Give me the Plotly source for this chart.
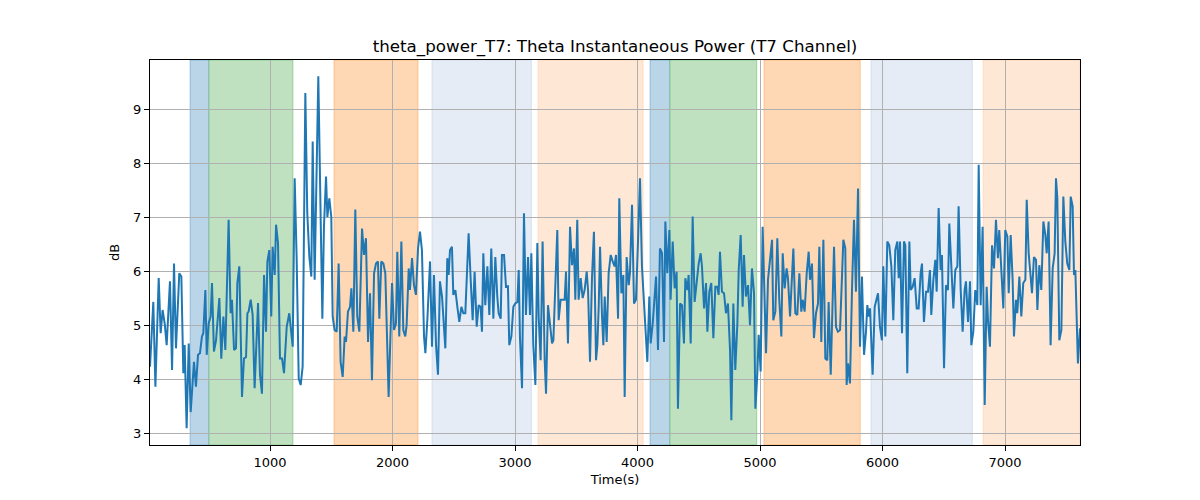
import plotly.graph_objects as go

# ---- data ----
time_s = [
    20, 47, 64, 91, 107, 123, 140, 156, 183, 200, 216, 232, 259, 276, 292, 303, 319, 336, 352, 379,
    395, 412, 428, 444, 455, 472, 483, 499, 515, 526, 542, 559, 586, 602, 619, 635, 662, 678, 689, 706,
    722, 733, 749, 771, 787, 804, 815, 825, 842, 858, 874, 902, 918, 934, 951, 967, 978, 994, 1010, 1021,
    1038, 1049, 1065, 1081, 1098, 1114, 1136, 1157, 1185, 1201, 1217, 1234, 1250, 1266,
    1288, 1304, 1321, 1337, 1348, 1364, 1394, 1427, 1440, 1457, 1468, 1484, 1500, 1511, 1527, 1544, 1560,
    1576, 1593, 1609, 1620, 1636, 1653, 1664, 1680, 1696, 1712, 1729, 1751, 1767, 1783, 1800, 1816, 1832,
    1849, 1865, 1881, 1892, 1908, 1925, 1941, 1952, 1968, 1996, 2012, 2028, 2039, 2055, 2072, 2088, 2104,
    2115, 2132, 2142, 2159, 2175, 2191, 2208, 2224, 2240, 2257, 2268, 2284, 2306, 2322, 2338, 2355, 2371,
    2387, 2404, 2431, 2447, 2458,
    2469, 2485, 2496, 2513, 2529, 2545, 2562, 2578, 2594, 2621, 2638, 2654, 2670, 2687, 2703, 2719, 2730,
    2741, 2757, 2774, 2790, 2806, 2823, 2839, 2855, 2866, 2883, 2893, 2910, 2926, 2942, 2953, 2970, 2986,
    3002, 3019, 3030, 3040, 3057, 3073, 3089, 3106, 3122, 3133, 3149, 3166, 3182, 3193, 3209, 3225, 3242,
    3253, 3269, 3285, 3302, 3313, 3329, 3345, 3356, 3372, 3389, 3405, 3416, 3432, 3449, 3465, 3481, 3492,
    3508, 3519, 3536, 3552, 3568, 3585, 3596, 3612, 3628, 3644, 3661, 3672, 3683,
    3694, 3710, 3721, 3732, 3748, 3764, 3781, 3797, 3813, 3824, 3841, 3851, 3868, 3884, 3895, 3911, 3928,
    3938, 3955, 3971, 3987, 4004, 4020, 4036, 4053, 4064, 4080, 4096, 4107, 4124, 4140, 4151, 4167, 4183,
    4200, 4216, 4227, 4243, 4260, 4270, 4287, 4303, 4319, 4330, 4347, 4363, 4379, 4390, 4407, 4417, 4434,
    4450, 4466, 4483, 4499, 4515, 4526, 4543, 4559, 4570, 4586, 4602, 4619, 4635, 4651, 4662, 4673, 4689,
    4706, 4722, 4738, 4755, 4766, 4782, 4798, 4815, 4826, 4842, 4858, 4869, 4885, 4902, 4918,
    4934, 4951, 4962, 4978, 4989, 5005, 5021, 5049, 5065, 5081, 5098, 5108, 5125, 5141, 5157, 5174, 5185,
    5201, 5217, 5228, 5245, 5272, 5288, 5304, 5321, 5337, 5348, 5364, 5381, 5397, 5408, 5424, 5440, 5457,
    5473, 5484, 5500, 5517, 5533, 5549, 5560, 5577, 5604, 5620, 5636, 5653, 5680, 5696, 5707, 5718, 5734,
    5751, 5767, 5783, 5800, 5816, 5832, 5849, 5865, 5876, 5887, 5898, 5919, 5936, 5963, 5979, 5995, 6006,
    6023, 6039, 6055, 6072, 6088, 6104, 6121, 6132,
    6143, 6159, 6175, 6186, 6202, 6219, 6230, 6246, 6262, 6279, 6295, 6311, 6322, 6338, 6355, 6371, 6387,
    6398, 6415, 6431, 6442, 6458, 6474, 6485, 6502, 6518, 6534, 6545, 6562, 6578, 6594, 6611, 6621, 6638,
    6654, 6670, 6681, 6698, 6714, 6725, 6741, 6757, 6774, 6785, 6801, 6817, 6834, 6850, 6861, 6877, 6894,
    6910, 6926, 6942, 6953, 6970, 6986, 7002, 7019, 7030, 7046, 7062, 7073, 7089, 7100, 7117, 7133, 7149,
    7166, 7177, 7193, 7209, 7220, 7236, 7253, 7264, 7280, 7296, 7313, 7329, 7340, 7356, 7372, 7389, 7405,
    7416, 7427, 7443, 7460, 7476, 7492, 7508, 7525, 7536, 7552, 7563, 7574, 7595, 7612,
]

power_db = [
    4.23, 5.43, 3.86, 5.87, 4.85, 5.28, 5.03, 4.63, 5.81, 4.17, 6.14, 4.57, 5.96, 5.90, 4.11, 4.63, 3.09, 4.66, 3.39, 4.32,
    3.86, 4.45, 4.48, 4.79, 4.85, 5.65, 4.45, 5.03, 5.16, 5.78, 4.51, 4.72, 5.50, 4.38, 5.16, 4.54, 6.95, 5.22, 5.47, 4.54,
    4.57, 5.78, 6.09, 3.67, 4.38, 4.41, 5.22, 5.25, 5.47, 5.19, 3.83, 5.41, 4.08, 3.73, 5.93, 4.88, 6.17, 6.39, 5.16, 6.45,
    5.93, 6.86, 6.52, 4.38, 4.38, 4.11, 4.97, 5.22, 4.60, 7.72, 6.26, 4.01, 3.89, 4.23,
    9.30, 7.07, 6.26, 5.90, 8.40, 5.84, 9.61, 5.12, 6.82, 7.75, 7.00, 7.35, 7.00, 5.16, 4.91, 4.88, 6.14,
    4.32, 4.04, 4.79, 4.69, 5.25, 5.34, 5.68, 4.88, 7.14, 5.16, 4.88, 6.79, 6.30, 6.61, 4.69, 5.59, 3.98,
    5.96, 6.14, 6.18, 5.12, 6.18, 6.14, 5.96, 4.79, 3.67, 5.78, 4.91, 5.03, 6.36, 4.79, 6.55, 4.91, 4.79,
    5.00, 6.05, 5.65, 6.24, 5.74, 5.56, 6.42, 6.73, 6.39, 4.79, 4.48, 5.09, 6.18, 4.60, 5.93, 4.63, 4.08,
    5.81, 5.53, 4.57, 6.24, 5.93,
    6.39, 6.45, 5.56, 5.65, 5.34, 5.06, 5.34, 5.22, 5.22, 6.70, 5.84, 5.09, 5.99, 4.97, 5.37, 5.34, 4.88,
    6.33, 5.37, 6.09, 5.19, 6.42, 5.12, 6.26, 5.53, 5.22, 5.12, 6.30, 6.30, 5.71, 5.72, 4.63, 4.79, 5.34,
    5.40, 5.43, 6.02, 4.79, 3.83, 7.07, 5.19, 6.26, 5.19, 6.33, 4.63, 3.89, 6.52, 5.16, 4.35, 6.55, 4.35,
    3.73, 5.37, 5.03, 4.66, 4.72, 5.90, 6.76, 5.09, 5.47, 5.47, 5.47, 5.99, 4.66, 6.82, 6.11, 6.42, 5.47,
    6.95, 5.47, 5.87, 5.50, 5.65, 5.99, 5.65, 4.32, 5.87, 6.73, 4.35, 4.63, 5.34,
    6.45, 5.16, 4.63, 5.53, 4.69, 5.96, 6.30, 6.18, 6.09, 6.30, 5.12, 7.35, 5.59, 5.93, 3.67, 6.26, 5.74,
    5.96, 7.23, 5.40, 5.47, 6.55, 7.72, 6.09, 5.37, 4.91, 4.32, 5.53, 4.66, 5.03, 5.47, 5.90, 4.54, 6.42,
    6.33, 4.69, 6.92, 5.96, 6.76, 5.47, 6.55, 5.68, 5.99, 3.45, 5.40, 5.37, 4.66, 5.87, 5.65, 5.93, 4.66,
    7.01, 5.43, 5.81, 6.14, 6.33, 6.09, 5.31, 5.78, 4.88, 5.62, 5.78, 4.76, 5.71, 5.71, 5.56, 6.36, 5.62,
    5.59, 5.22, 5.40, 4.54, 3.24, 5.40, 4.17, 5.03, 6.02, 6.67, 5.34, 6.30, 5.53, 5.74, 5.00,
    6.05, 5.59, 3.45, 4.11, 4.82, 4.14, 6.82, 4.48, 5.84, 6.21, 6.58, 5.09, 5.25, 6.61, 5.47, 4.79, 6.33,
    5.68, 6.05, 5.87, 5.16, 6.42, 5.22, 5.19, 5.96, 5.25, 5.47, 5.25, 5.96, 6.36, 5.84, 6.14, 4.76, 5.22,
    5.40, 6.45, 4.69, 6.58, 4.38, 4.35, 5.43, 4.08, 6.45, 4.97, 4.88, 4.91, 6.58, 6.42, 3.89, 4.29, 3.92,
    5.68, 6.95, 5.62, 7.53, 4.60, 5.90, 4.45, 4.88, 5.37, 5.16, 5.31, 4.08, 5.34, 5.59, 4.97, 4.72, 6.09,
    4.79, 6.55, 6.48, 6.09, 5.09, 6.39, 6.55, 5.87,
    6.55, 4.85, 6.55, 6.48, 4.11, 6.55, 5.65, 5.71, 5.87, 5.31, 5.31, 5.96, 6.14, 5.06, 5.62, 5.62, 6.02,
    5.19, 5.84, 6.21, 5.62, 7.17, 6.02, 6.30, 4.20, 5.74, 5.65, 6.88, 5.96, 5.31, 6.02, 6.09, 7.20, 5.65,
    4.88, 5.65, 5.81, 5.06, 5.81, 4.63, 4.88, 5.65, 5.37, 7.97, 5.37, 6.82, 3.52, 5.71, 5.09, 4.60, 6.48,
    6.05, 6.95, 6.24, 6.76, 6.09, 5.31, 6.76, 6.64, 5.59, 6.67, 5.84, 4.79, 5.47, 5.22, 5.90, 5.16, 5.78,
    5.84, 7.32, 6.33, 5.90, 5.59, 6.26, 6.21, 5.28, 6.11, 5.65, 6.92, 6.67, 6.33, 6.92, 4.63, 6.05, 6.33,
    7.72, 7.35, 4.72, 4.91, 7.38, 6.55, 6.14, 6.02, 7.38, 7.20, 5.93, 6.02, 4.29, 4.94,
]

span_start = [347, 502, 1522, 2322, 3187, 4102, 4265, 5032, 5906, 6820]
span_end = [502, 1187, 2208, 3133, 4046, 4265, 4973, 5818, 6733, 7612]
span_fill = [
    "rgb(187,213,232)", "rgb(192,225,192)", "rgb(254,216,180)", "rgb(229,236,246)", "rgb(254,232,213)",
    "rgb(187,213,232)", "rgb(192,225,192)", "rgb(254,216,180)", "rgb(229,236,246)", "rgb(254,232,213)",
]
span_edge = [
    "rgba(31,119,180,0.35)", "rgba(44,160,44,0.35)", "rgba(255,127,14,0.35)", "rgba(176,196,222,0.4)",
    "rgba(255,127,14,0.15)",
    "rgba(31,119,180,0.35)", "rgba(44,160,44,0.35)", "rgba(255,127,14,0.35)", "rgba(176,196,222,0.4)",
    "rgba(255,127,14,0.15)",
]

x_ticks = [1000, 2000, 3000, 4000, 5000, 6000, 7000]
y_ticks = [3, 4, 5, 6, 7, 8, 9]

fig = go.Figure()
fig.add_trace(go.Scatter(x=time_s, y=power_db, mode="lines",
                         line=dict(color="#1f77b4", width=2), showlegend=False,
                         hoverinfo="x+y"))

for s, e, c, ec in zip(span_start, span_end, span_fill, span_edge):
    fig.add_shape(type="rect", xref="x", yref="paper", x0=s, x1=e, y0=0, y1=1,
                  fillcolor=c, line=dict(color=ec, width=1), layer="below")

font_family = "DejaVu Sans, sans-serif"
fig.update_layout(
    width=1200, height=500,
    margin=dict(l=150, r=120, t=60, b=55),
    paper_bgcolor="white", plot_bgcolor="white",
    font=dict(family=font_family, size=13, color="black"),
    title=dict(text="theta_power_T7: Theta Instantaneous Power (T7 Channel)",
               x=615 / 1200, xanchor="center", y=1 - 46 / 500, yanchor="middle",
               yref="container", font=dict(size=16.7, family=font_family, color="black")),
    showlegend=False,
)
fig.update_xaxes(
    range=[20, 7612], tickvals=x_ticks, ticktext=[str(v) for v in x_ticks],
    showgrid=True, gridcolor="#b0b0b0", gridwidth=1,
    showline=True, linecolor="black", linewidth=1, mirror=True,
    ticks="outside", ticklen=5, tickcolor="black", tickwidth=1,
    zeroline=False,
    title=dict(text="Time(s)", font=dict(size=13), standoff=6),
    tickfont=dict(size=13),
)
fig.update_yaxes(
    range=[2.78, 9.91], tickvals=y_ticks, ticktext=[str(v) for v in y_ticks],
    showgrid=True, gridcolor="#b0b0b0", gridwidth=1,
    showline=True, linecolor="black", linewidth=1, mirror=True,
    ticks="outside", ticklen=5, tickcolor="black", tickwidth=1,
    zeroline=False,
    title=dict(text="dB", font=dict(size=13), standoff=10),
    tickfont=dict(size=13),
)

fig.write_html("out.html")
